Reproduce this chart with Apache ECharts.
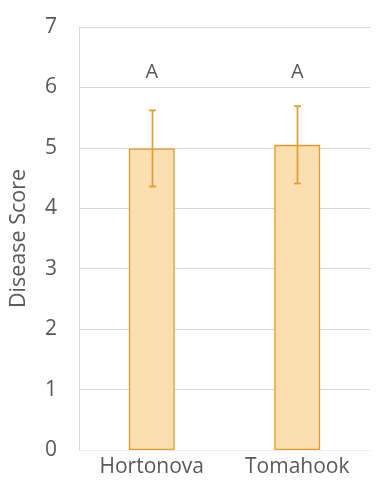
<!DOCTYPE html>
<html>
<head>
<meta charset="utf-8">
<script src="https://cdn.jsdelivr.net/npm/echarts@6/dist/echarts.min.js"></script>
<style>html,body{margin:0;padding:0;background:#fff}#c{width:384px;height:495px}</style>
</head>
<body>
<div id="c"></div>
<script>
var categories = ['Hortonova', 'Tomahook'];
var meanValues = [4.99, 5.05];
var errValues = [0.63, 0.64];
var letters = ['A', 'A'];
var letterLevel = 6.25;
var yTicks = [0, 1, 2, 3, 4, 5, 6, 7];

var chart = echarts.init(document.getElementById('c'), null, {renderer: 'canvas'});
var font = 'Open Sans';
var orange = '#E59A2E';
chart.setOption({
  animation: false,
  grid: {left: 77, right: 14, top: 27, bottom: 45},
  xAxis: {
    type: 'category', data: categories,
    axisLine: {show: true, lineStyle: {color: '#eeeeee'}},
    axisTick: {show: false},
    axisLabel: {color: '#595959', fontSize: 21, fontFamily: font, margin: 7}
  },
  yAxis: {
    type: 'value', min: yTicks[0], max: yTicks[yTicks.length - 1], interval: 1,
    name: 'Disease Score', nameLocation: 'middle', nameGap: 49,
    nameTextStyle: {color: '#595959', fontSize: 21.5, fontFamily: font},
    axisLine: {show: true, lineStyle: {color: '#d9d9d9'}},
    axisTick: {show: false},
    splitLine: {lineStyle: {color: '#d9d9d9'}},
    axisLabel: {color: '#595959', fontSize: 21, fontFamily: font, margin: 22}
  },
  series: [
    {
      type: 'bar', data: meanValues, barWidth: '31.5%',
      itemStyle: {color: '#FBDFB0', borderColor: orange, borderWidth: 1.3}
    },
    {
      type: 'custom',
      data: categories.map(function (c, i) { return [i, meanValues[i] - errValues[i], meanValues[i] + errValues[i]]; }),
      renderItem: function (params, api) {
        var lo = api.coord([api.value(0), api.value(1)]);
        var hi = api.coord([api.value(0), api.value(2)]);
        var x = Math.round(lo[0]) + 0.5;
        var w = 3.5;
        var st = {stroke: orange, lineWidth: 1.7, fill: null};
        return {type: 'group', children: [
          {type: 'line', shape: {x1: x, y1: hi[1], x2: x, y2: lo[1]}, style: st},
          {type: 'line', shape: {x1: x - w, y1: hi[1], x2: x + w, y2: hi[1]}, style: st},
          {type: 'line', shape: {x1: x - w, y1: lo[1], x2: x + w, y2: lo[1]}, style: st}
        ]};
      },
      z: 5
    },
    {
      type: 'custom',
      data: letters.map(function (l, i) { return [i, letterLevel]; }),
      renderItem: function (params, api) {
        var p = api.coord([api.value(0), api.value(1)]);
        return {type: 'text', x: p[0], y: p[1], style: {
          text: letters[params.dataIndex], fill: '#595959', fontSize: 20, fontFamily: font,
          align: 'center', verticalAlign: 'middle'}};
      },
      z: 6
    }
  ]
});
</script>
</body>
</html>
